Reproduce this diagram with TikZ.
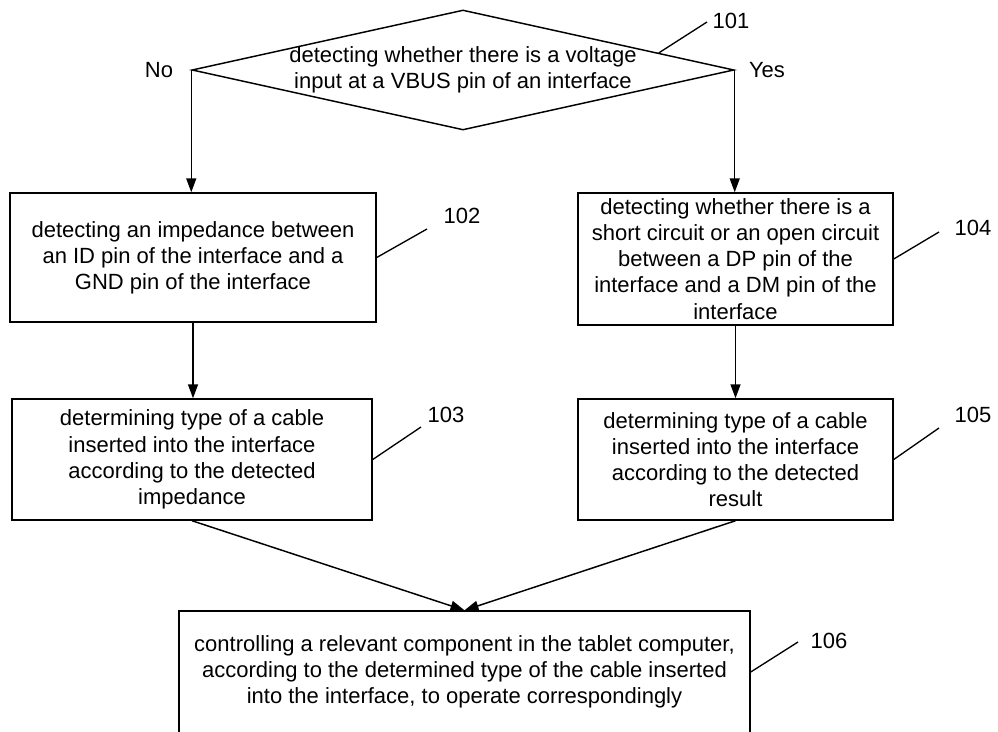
\documentclass[tikz,border=0pt]{standalone}
\usepackage{fontspec}
\setmainfont{Liberation Sans}
\usetikzlibrary{shapes.geometric,arrows.meta,calc}
\begin{document}
\begin{tikzpicture}[x=0.75pt,y=-0.75pt,
  line width=1.1pt,
  font=\fontsize{16.5pt}{19.6pt}\selectfont,
  stepbox/.style={draw, rectangle, align=center, inner sep=0pt},
  decision/.style={draw, diamond, inner sep=0pt},
  flow/.style={-{Triangle[length=10.5pt,width=7.5pt]}},
  leader/.style={line width=1pt},
  num/.style={inner sep=0pt}]
\clip (0,0) rectangle (998,731);
\fill[white] (0,0) rectangle (998,731);

\node[decision, minimum width=542*0.75pt, minimum height=120*0.75pt,
  label={[align=center]center:detecting whether there is a voltage\\input at a VBUS pin of an interface}] (d101) at (463,70) {};

\node[stepbox, minimum width=366*0.75pt, minimum height=129*0.75pt] (b102) at (193,257.5)
  {detecting an impedance between\\an ID pin of the interface and a\\GND pin of the interface};
\node[stepbox, minimum width=360*0.75pt, minimum height=121*0.75pt] (b103) at (192,459.5)
  {determining type of a cable\\inserted into the interface\\according to the detected\\impedance};
\node[stepbox, minimum width=315*0.75pt, minimum height=132*0.75pt] (b104) at (735.5,259)
  {detecting whether there is a\\short circuit or an open circuit\\between a DP pin of the\\interface and a DM pin of the\\interface};
\node[stepbox, minimum width=315*0.75pt, minimum height=121*0.75pt] (b105) at (735.5,459.5)
  {determining type of a cable\\inserted into the interface\\according to the detected\\result};
\node[stepbox, minimum width=571*0.75pt, minimum height=122*0.75pt] (b106) at (464.5,672)
  {controlling a relevant component in the tablet computer,\\according to the determined type of the cable inserted\\into the interface, to operate correspondingly};

% flow connectors
\draw[flow] (d101.west) -- (d101.west |- b102.north);
\draw[flow] (d101.east) -- (d101.east |- b104.north);
\draw[flow] (b102.south) -- (b102.south |- b103.north);
\draw[flow] (b104.south) -- (b104.south |- b105.north);
\draw[flow] (b103.south) -- (b106.north);
\draw[flow] (b105.south) -- (b106.north);

% branch labels
\node[num] (no) at (159,70) {No};
\node[num] (yes) at (767,70) {Yes};

% reference numerals
\node[num] (n101) at (731,21) {101};
\node[num] (n102) at (462,216) {102};
\node[num] (n103) at (446,415) {103};
\node[num] (n104) at (973,228) {104};
\node[num] (n105) at (973,415) {105};
\node[num] (n106) at (829,641) {106};

\coordinate (e101) at (707,22);
\coordinate (e102) at (427,229);
\coordinate (e103) at (421,427);
\coordinate (e104) at (939,232);
\coordinate (e105) at (939,428);
\coordinate (e106) at (798,642);

\draw[leader] ($(d101.north)!0.72!(d101.east)$) -- (e101);
\draw[leader] (b102.east) -- (e102);
\draw[leader] (b103.east) -- (e103);
\draw[leader] (b104.east) -- (e104);
\draw[leader] (b105.east) -- (e105);
\draw[leader] (b106.east) -- (e106);
\end{tikzpicture}
\end{document}
